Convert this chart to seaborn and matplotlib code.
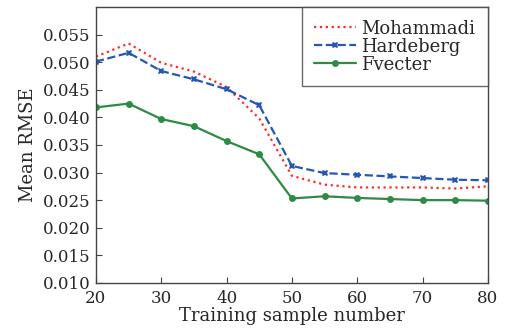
import numpy as np
import pandas as pd
import seaborn as sns
import matplotlib.pyplot as plt

# -----------------
# Data
# -----------------
samples = [20, 25, 30, 35, 40, 45, 50, 55, 60, 65, 70, 75, 80]
mohammadi = [0.0510, 0.0534, 0.0499, 0.0483, 0.0455, 0.0398, 0.0294,
             0.0278, 0.0273, 0.0273, 0.0273, 0.0271, 0.0275]
hardeberg = [0.0501, 0.0517, 0.0484, 0.0469, 0.0451, 0.0422, 0.0312,
             0.0299, 0.0296, 0.0293, 0.0290, 0.0287, 0.0286]
fvecter = [0.0418, 0.0425, 0.0397, 0.0384, 0.0357, 0.0333, 0.0253,
           0.0257, 0.0254, 0.0252, 0.0250, 0.0250, 0.0249]

yticks = [0.010, 0.015, 0.020, 0.025, 0.030, 0.035, 0.040, 0.045, 0.050, 0.055]
xticks = [20, 30, 40, 50, 60, 70, 80]

# -----------------
# Plot
# -----------------
sns.set_theme(style="ticks")
plt.rcParams["font.family"] = ["DejaVu Serif"]
plt.rcParams["xtick.direction"] = "in"
plt.rcParams["ytick.direction"] = "in"

fig, ax = plt.subplots(figsize=(5.13, 3.34), dpi=100)

sns.lineplot(x=samples, y=mohammadi, ax=ax, color="#ff2a2a", linestyle=":",
             linewidth=1.6, label="Mohammadi")
sns.lineplot(x=samples, y=hardeberg, ax=ax, color="#2557b5", linestyle="--",
             linewidth=1.6, marker="X", markersize=5, markeredgewidth=0,
             label="Hardeberg")
sns.lineplot(x=samples, y=fvecter, ax=ax, color="#2e8b45", linestyle="-",
             linewidth=1.6, marker="o", markersize=5, markeredgewidth=0,
             label="Fvecter")

ax.set_xlim(20, 80)
ax.set_ylim(0.010, 0.060)
ax.set_xticks(xticks)
ax.set_yticks(yticks)
ax.set_yticklabels([f"{v:.3f}" for v in yticks])
ax.tick_params(labelsize=12, length=4, width=0.8, color="#444444")
ax.tick_params(axis="x", pad=5)
ax.tick_params(axis="y", pad=4)
ax.set_xlabel("Training sample number", fontsize=13, labelpad=0)
ax.set_ylabel("Mean RMSE", fontsize=13, labelpad=4)
for s in ax.spines.values():
    s.set_color("#444444")
    s.set_linewidth(1.0)

leg = ax.legend(loc="upper right", fontsize=13, frameon=True, fancybox=False,
                borderaxespad=0, handlelength=2.3, handletextpad=0.3,
                labelspacing=0.0, borderpad=0.7)
leg.get_frame().set_edgecolor("#444444")
leg.get_frame().set_linewidth(1.0)

fig.subplots_adjust(left=0.187, right=0.951, top=0.979, bottom=0.153)
fig.savefig("out.png", dpi=100)
